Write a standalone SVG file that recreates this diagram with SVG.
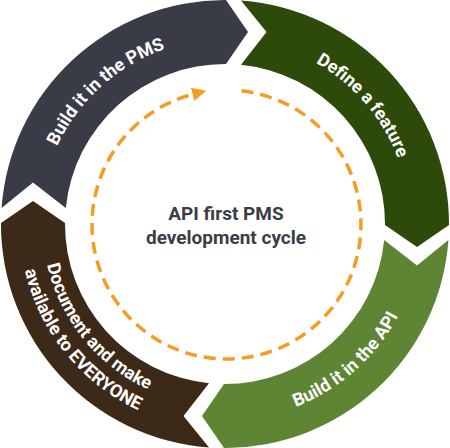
<svg xmlns="http://www.w3.org/2000/svg" xmlns:xlink="http://www.w3.org/1999/xlink" width="450" height="448" viewBox="0 0 450 448">
<style>
.seg{stroke:none}
.lbl{font-family:Roboto,"Liberation Sans",Arial,sans-serif;font-weight:700;font-size:18px;fill:#ffffff}
.ctr{font-family:Roboto,"Liberation Sans",Arial,sans-serif;font-weight:700;font-size:19px;fill:#3a3d46;text-anchor:middle}
.dash{fill:none;stroke:#f59c23;stroke-width:3.5;stroke-dasharray:12 7}
</style>
<defs>
<path id="segShape" d="M241,0.57 A224,224 0 0 1 449,225 L417,247 L385,225 A160,160 0 0 0 241,64.8 L266.5,32 Z"/>
<path id="pGray" d="M44.05,262.46 A185,185 0 0 1 282.17,48.05"/>
<path id="pDark" d="M190.65,42.22 A185,185 0 0 1 399.6,285.15"/>
<path id="pLight" d="M163.14,409.98 A196,196 0 0 0 417,184.6"/>
<path id="pBrown1" d="M54.62,158.59 A182.5,182.5 0 0 0 253.54,404.25"/>
<path id="pBrown2" d="M33.15,150.35 A205.5,205.5 0 0 0 257.14,426.97"/>
<marker id="arrowHead" markerWidth="16" markerHeight="16" refX="0" refY="0" viewBox="0 -8 16 16" orient="auto" markerUnits="userSpaceOnUse">
<path d="M0,-6.8 L14,0 L0,6.8 Z" fill="#f59c23"/>
</marker>
</defs>
<g id="define-feature">
<use xlink:href="#segShape" href="#segShape" class="seg" fill="#2e4a0b"/>
<text class="lbl"><textPath xlink:href="#pDark" href="#pDark" startOffset="50%" text-anchor="middle">Define a feature</textPath></text>
</g>
<g id="build-api">
<use xlink:href="#segShape" href="#segShape" class="seg" fill="#5e8534" transform="rotate(90 225 224)"/>
<text class="lbl"><textPath xlink:href="#pLight" href="#pLight" startOffset="50%" text-anchor="middle">Build it in the API</textPath></text>
</g>
<g id="document">
<use xlink:href="#segShape" href="#segShape" class="seg" fill="#3d2917" transform="rotate(180 225 224)"/>
<text class="lbl"><textPath xlink:href="#pBrown1" href="#pBrown1" startOffset="50%" text-anchor="middle">Document and make</textPath></text>
<text class="lbl"><textPath xlink:href="#pBrown2" href="#pBrown2" startOffset="50%" text-anchor="middle">available to EVERYONE</textPath></text>
</g>
<g id="build-pms">
<use xlink:href="#segShape" href="#segShape" class="seg" fill="#393c47" transform="rotate(270 225 224)"/>
<text class="lbl"><textPath xlink:href="#pGray" href="#pGray" startOffset="50%" text-anchor="middle">Build it in the PMS</textPath></text>
</g>
<g id="center-label">
<text class="ctr" x="226" y="220">API first PMS</text>
<text class="ctr" x="226" y="244">development cycle</text>
</g>
<g id="connectors">
<path class="dash" d="M241.5,90.84 A134.5,134.5 0 1 1 192.6,94.34" marker-end="url(#arrowHead)"/>
</g>
</svg>
